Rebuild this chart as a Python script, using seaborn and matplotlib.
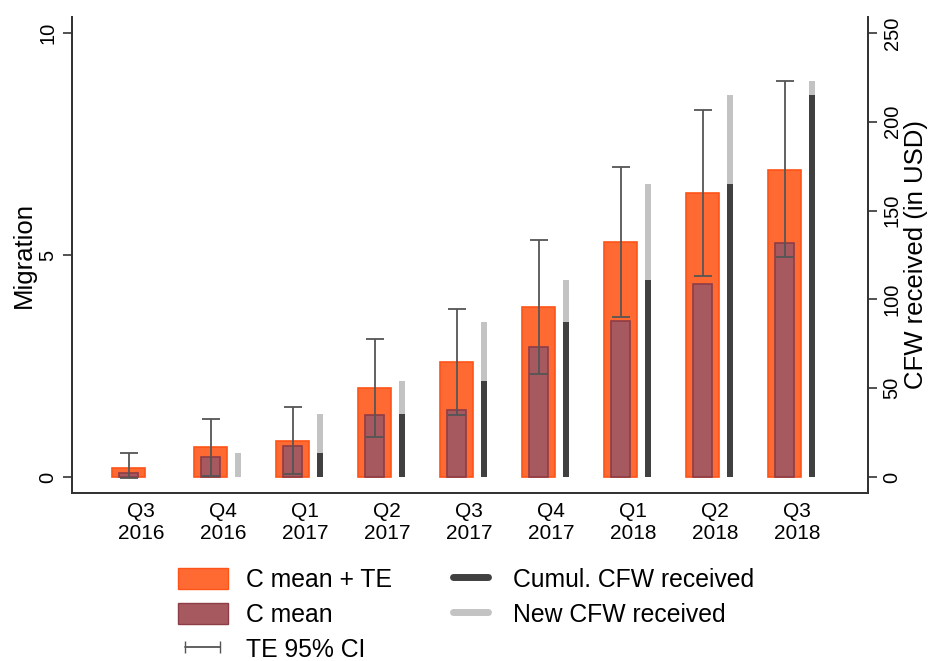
import numpy as np
import pandas as pd
import seaborn as sns
import matplotlib.pyplot as plt
from matplotlib.patches import Patch
from matplotlib.lines import Line2D

# quarters on the x axis
quarters = ["Q3\n2016", "Q4\n2016", "Q1\n2017", "Q2\n2017", "Q3\n2017",
            "Q4\n2017", "Q1\n2018", "Q2\n2018", "Q3\n2018"]

# migration (left axis)
c_mean_te = [0.21, 0.67, 0.80, 2.00, 2.58, 3.82, 5.29, 6.39, 6.92]
c_mean = [0.10, 0.45, 0.69, 1.39, 1.51, 2.92, 3.51, 4.34, 5.28]
ci_low = [-0.02, 0.03, 0.06, 0.91, 1.39, 2.32, 3.61, 4.53, 4.96]
ci_high = [0.54, 1.31, 1.57, 3.11, 3.78, 5.34, 6.99, 8.26, 8.91]

# CFW received in USD (right axis)
cfw_cumul = [0, 0, 13.5, 35.6, 54.1, 87.5, 110.9, 165.0, 215.3]
cfw_total = [0, 13.5, 35.6, 54.1, 87.5, 110.9, 165.0, 215.3, 223.0]

sns.set_style("white")
plt.rcParams['font.family'] = ['Liberation Sans', 'DejaVu Sans']
plt.rcParams['text.color'] = 'black'
plt.rcParams['axes.labelcolor'] = 'black'
plt.rcParams['xtick.color'] = 'black'
plt.rcParams['ytick.color'] = 'black'

idx = np.arange(len(quarters))
df = pd.DataFrame({"xbar": idx - 0.15, "xline": idx + 0.18,
                   "te": c_mean_te, "cm": c_mean,
                   "cumul": cfw_cumul, "total": cfw_total})

fig = plt.figure(figsize=(9.33, 6.61), dpi=100)
ax = fig.add_axes([0.0772, 0.2546, 0.8531, 0.7197])
ax2 = ax.twinx()

orange = "#FF6A33"
orange_edge = "#FF5417"
brown = "#A65A5F"
brown_edge = "#8E3D47"
dark = "#404040"
light = "#C3C3C3"

sns.barplot(data=df, x="xbar", y="te", native_scale=True, width=0.41,
            color=orange, edgecolor=orange_edge, linewidth=1.2,
            saturation=1, errorbar=None, ax=ax)
sns.barplot(data=df, x="xbar", y="cm", native_scale=True, width=0.24,
            color=brown, edgecolor=brown_edge, linewidth=1.2,
            saturation=1, errorbar=None, ax=ax)

lo = np.array(ci_low)
hi = np.array(ci_high)
ax.errorbar(df["xbar"], (lo + hi) / 2, yerr=(hi - lo) / 2, fmt="none",
            ecolor="#555555", elinewidth=1.3, capsize=6.5, capthick=1.3, zorder=5)

# new CFW (light) behind, cumulative (dark) on top
sns.barplot(data=df, x="xline", y="total", native_scale=True, width=0.075,
            color=light, linewidth=0, saturation=1, errorbar=None, ax=ax2)
sns.barplot(data=df, x="xline", y="cumul", native_scale=True, width=0.075,
            color=dark, linewidth=0, saturation=1, errorbar=None, ax=ax2)

ax.set_ylim(-0.354, 10.36)
ax2.set_ylim(-8.85, 259)
ax.set_xlim(-0.84, 8.866)
ax.set_yticks([0, 5, 10])
ax2.set_yticks([0, 50, 100, 150, 200, 250])
ax.set_xticks(idx)
ax.set_xticklabels(quarters)

for a in (ax, ax2):
    for s in a.spines.values():
        s.set_color("#333333")
        s.set_linewidth(1.3)
    a.spines["top"].set_visible(False)
    a.grid(False)

ax.tick_params(axis="x", length=0, pad=7, labelsize=15, labelcolor="black")
ax.tick_params(axis="y", length=6.5, width=1.2, color="#333333", labelsize=14.5,
               direction="out", left=True, pad=4, labelcolor="black")
ax2.tick_params(axis="y", length=6.5, width=1.2, color="#333333", labelsize=14.5,
                direction="out", right=True, pad=4, labelcolor="black")
for t in ax.get_yticklabels():
    t.set_rotation(90)
    t.set_va("center")
for t in ax2.get_yticklabels():
    t.set_rotation(90)
    t.set_va("center")

ax.set_xlabel("")
ax.set_ylabel("Migration", fontsize=18.5, labelpad=2, color="black")
ax2.set_xlabel("")
ax2.set_ylabel("CFW received (in USD)", fontsize=18.5, labelpad=2, color="black")

handles = [
    Patch(facecolor=orange, edgecolor=orange_edge, label="C mean + TE"),
    Patch(facecolor=brown, edgecolor=brown_edge, label="C mean"),
    Line2D([], [], color="#555555", lw=1.3, marker="|", markersize=8,
           label="TE 95% CI"),
    Line2D([], [], color=dark, lw=5, label="Cumul. CFW received"),
    Line2D([], [], color=light, lw=5, label="New CFW received"),
]
leg = fig.legend(handles=handles, loc="upper left", bbox_to_anchor=(0.167, 0.175),
                 ncol=2, frameon=False, fontsize=17.8, numpoints=2,
                 handlelength=2.0, handleheight=0.97, handletextpad=0.73,
                 labelspacing=0.43, columnspacing=2.2, borderpad=0.4)
for t in leg.get_texts():
    t.set_color("black")

fig.savefig("out.png", dpi=100)
